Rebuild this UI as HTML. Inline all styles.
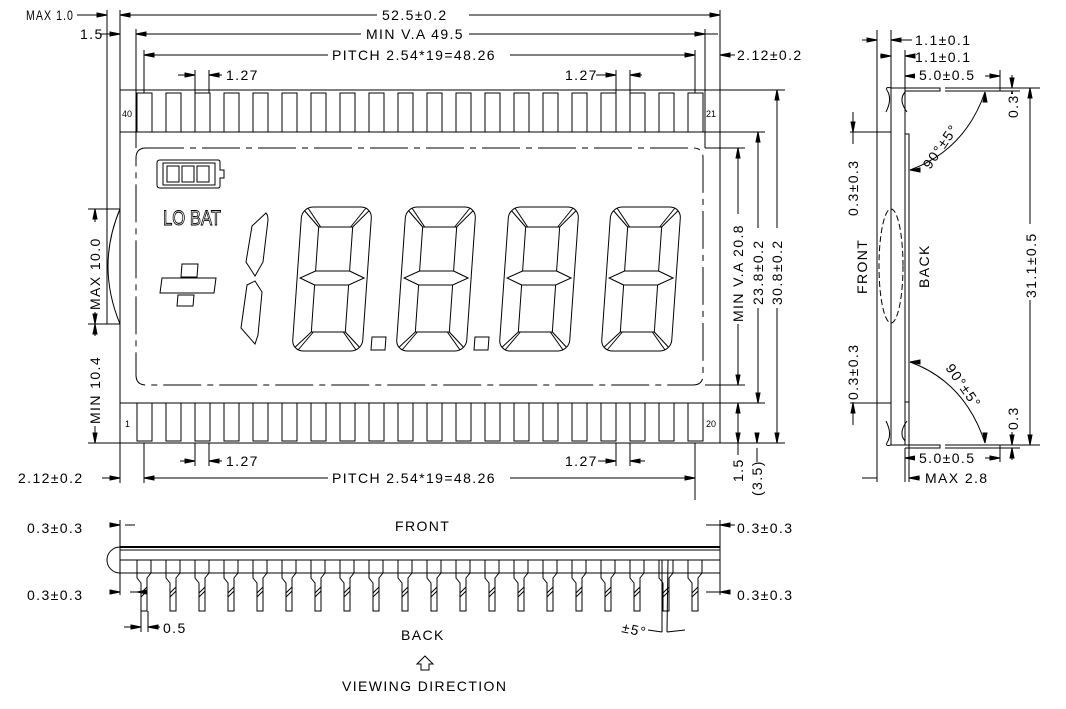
<!DOCTYPE html>
<html><head><meta charset="utf-8">
<style>
html,body{margin:0;padding:0;background:#fff;}
svg{display:block;}
text{font-family:"Liberation Sans",sans-serif;font-size:14px;letter-spacing:1.4px;fill:#000;}
</style></head>
<body>
<svg id="s" width="1066" height="709" viewBox="0 0 1066 709" xmlns="http://www.w3.org/2000/svg">
<g id="g" stroke="#000" stroke-width="1" fill="none"></g>
<text x="26" y="20" textLength="48" lengthAdjust="spacingAndGlyphs">MAX  1.0</text>
<text x="80" y="39">1.5</text>
<rect x="377" y="7" width="92" height="14" fill="#fff"/>
<text x="382" y="20">52.5±0.2</text>
<rect x="361" y="27" width="108" height="14" fill="#fff"/>
<text x="366" y="39">MIN  V.A  49.5</text>
<rect x="328" y="47" width="182" height="14" fill="#fff"/>
<text x="332" y="60">PITCH  2.54*19=48.26</text>
<text x="737" y="60">2.12±0.2</text>
<text x="226" y="80">1.27</text>
<text x="565" y="80">1.27</text>
<text x="122" y="117" style="font-size:9px;letter-spacing:0">40</text>
<text x="706" y="117" style="font-size:9px;letter-spacing:0">21</text>
<text x="125" y="427" style="font-size:9px;letter-spacing:0">1</text>
<text x="706" y="427" style="font-size:9px;letter-spacing:0">20</text>
<text x="226" y="466">1.27</text>
<text x="565" y="466">1.27</text>
<rect x="328" y="471" width="182" height="14" fill="#fff"/>
<text x="332" y="483">PITCH  2.54*19=48.26</text>
<text x="18" y="483">2.12±0.2</text>
<text transform="translate(743,482) rotate(-90)">1.5</text>
<text transform="translate(762,496) rotate(-90)">(3.5)</text>
<rect x="88" y="222" width="14" height="90" fill="#fff"/>
<text transform="translate(100,310) rotate(-90)">MAX  10.0</text>
<rect x="88" y="336" width="14" height="90" fill="#fff"/>
<text transform="translate(100,424) rotate(-90)">MIN  10.4</text>
<rect x="731" y="214" width="14" height="110" fill="#fff"/>
<text transform="translate(743,322) rotate(-90)">MIN  V.A  20.8</text>
<rect x="751" y="228" width="14" height="80" fill="#fff"/>
<text transform="translate(763,305) rotate(-90)">23.8±0.2</text>
<rect x="770" y="228" width="14" height="80" fill="#fff"/>
<text transform="translate(782,305) rotate(-90)">30.8±0.2</text>
<text x="163" y="225" style="font-size:21px;letter-spacing:0;fill:#fff;stroke:#000;stroke-width:0.9;font-family:'Liberation Sans Narrow','Liberation Sans',sans-serif" textLength="58" lengthAdjust="spacingAndGlyphs">LO BAT</text>
<text x="395" y="531">FRONT</text>
<text x="401" y="640">BACK</text>
<text x="342" y="691">VIEWING  DIRECTION</text>
<text x="27" y="533">0.3±0.3</text>
<text x="737" y="533">0.3±0.3</text>
<text x="27" y="600">0.3±0.3</text>
<text x="737" y="600">0.3±0.3</text>
<text x="163" y="633">0.5</text>
<text transform="translate(621,632) rotate(12)">±5°</text>
<text x="915" y="45">1.1±0.1</text>
<text x="915" y="62">1.1±0.1</text>
<rect x="915" y="69" width="70" height="13" fill="#fff"/>
<text x="919" y="80">5.0±0.5</text>
<rect x="915" y="452" width="70" height="13" fill="#fff"/>
<text x="919" y="463">5.0±0.5</text>
<text x="925" y="483">MAX  2.8</text>
<rect x="1005" y="94" width="14" height="26" fill="#fff"/>
<text transform="translate(1018,118) rotate(-90)">0.3</text>
<rect x="1005" y="404" width="14" height="28" fill="#fff"/>
<text transform="translate(1018,430) rotate(-90)">0.3</text>
<rect x="1024" y="224" width="14" height="76" fill="#fff"/>
<text transform="translate(1036,298) rotate(-90)">31.1±0.5</text>
<rect x="846" y="144" width="14" height="74" fill="#fff"/>
<text transform="translate(858,216) rotate(-90)">0.3±0.3</text>
<rect x="846" y="328" width="14" height="74" fill="#fff"/>
<text transform="translate(858,400) rotate(-90)">0.3±0.3</text>
<text transform="translate(867,294) rotate(-90)">FRONT</text>
<text transform="translate(929,288) rotate(-90)">BACK</text>
<text transform="translate(930,170) rotate(-55)">90°±5°</text>
<text transform="translate(945,368) rotate(55)">90°±5°</text>
</svg>
<script>
var g=document.getElementById('g');var NS='http://www.w3.org/2000/svg';
function el(t,a,p){var e=document.createElementNS(NS,t);for(var k in a)e.setAttribute(k,a[k]);(p||g).appendChild(e);return e;}
function L(x1,y1,x2,y2,extra){var a={x1:x1,y1:y1,x2:x2,y2:y2};for(var k in extra)a[k]=extra[k];return el('line',a);}
function P(d,extra){var a={d:d};for(var k in extra)a[k]=extra[k];return el('path',a);}
function R(x,y,w,h,extra){var a={x:x,y:y,width:w,height:h};for(var k in extra)a[k]=extra[k];return el('rect',a);}
function A(x,y,dir){var s=10,w=2;var d;
 if(dir=='l')d='M'+x+' '+y+'L'+(x+s)+' '+(y-w)+'L'+(x+s)+' '+(y+w)+'Z';
 if(dir=='r')d='M'+x+' '+y+'L'+(x-s)+' '+(y-w)+'L'+(x-s)+' '+(y+w)+'Z';
 if(dir=='u')d='M'+x+' '+y+'L'+(x-w)+' '+(y+s)+'L'+(x+w)+' '+(y+s)+'Z';
 if(dir=='d')d='M'+x+' '+y+'L'+(x-w)+' '+(y-s)+'L'+(x+w)+' '+(y-s)+'Z';
 P(d,{fill:'#000'});}
L(120,90,720,90);L(120,132,720,132);L(120,403,720,403);L(120,443,720,443);
L(120,90,120,443);L(720,90,720,443);
for(var i=0;i<20;i++){var x=137+i*29.0;R(x,93,15,39);R(x,403,15,38);}
P('M146 148 L693 148 Q703 148 703 158 L703 375 Q703 385 693 385 L146 385 Q136 385 136 375 L136 158 Q136 148 146 148Z',{'stroke-dasharray':'38 6 6 6'});
P('M120 209 Q96 266 120 324');
P('M160 160 L218 160 Q220 160 220 162 L220 170 L224 170 L224 178 L220 178 L220 186 Q220 188 218 188 L160 188 Q157 188 157 185 L157 163 Q157 160 160 160Z');
P('M163 163 L215 163 L215 185 L163 185Z');
R(167,166,12,16);R(182,166,12,16);R(197,166,12,16);
P('M162 278 L216 278 L214 293 L160 293Z');P('M182 264 L198 264 L197 277 L181 277Z');P('M178 295 L194 295 L193 306 L177 306Z');
P('M252 226 L266 213 Q268 215 268 220 L263 262 L255 276 L246 262 Z');
P('M247 285 L255 281 L262 292 L258 335 L255 344 L241 328 Z');
function digit(bx){var gg=el('g',{transform:'translate('+bx+',351) skewX(-4)'});
 el('rect',{x:0,y:-144,width:70,height:144,rx:11},gg);
 el('path',{d:'M18 -124 L52 -124 L52 -80 L18 -80Z M18 -66 L52 -66 L52 -19 L18 -19Z'},gg);
 el('path',{d:'M18 -80 L3 -73 L18 -66 M52 -80 L67 -73 L52 -66'},gg);
 el('path',{d:'M3 -140 L18 -124 M6 -143 L20 -124 M67 -140 L52 -124 M64 -143 L50 -124 M3 -4 L18 -19 M6 -1 L20 -19 M67 -4 L52 -19 M64 -1 L50 -19'},gg);
}
digit(292);digit(396);digit(499);digit(601);
P('M372 337 L386 337 L385 350 L371 350Z');P('M475 337 L489 337 L488 350 L474 350Z');
L(120,10,120,90);L(720,10,720,90);L(107,10,107,324);
L(125,15,720,15);A(120,15,'l');A(720,15,'r');L(77,15,97,15);A(107,15,'r');
L(136,29,136,148);L(705,29,705,148);
L(100,34,110,34);A(120,34,'r');L(141,34,705,34);A(136,34,'l');A(705,34,'r');L(705,34,718,34);
L(144,50,144,93);L(695,50,695,93);L(144,55,695,55);A(144,55,'l');A(695,55,'r');
L(720,55,735,55);A(720,55,'l');
L(195,70,195,93);L(209,70,209,93);L(178,75,195,75);A(195,75,'r');L(209,75,222,75);A(209,75,'l');
L(616,70,616,93);L(630,70,630,93);L(596,75,616,75);A(616,75,'r');L(630,75,642,75);A(630,75,'l');
L(195,443,195,466);L(209,443,209,466);L(180,461,195,461);A(195,461,'r');L(209,461,222,461);A(209,461,'l');
L(616,443,616,466);L(630,443,630,466);L(598,461,616,461);A(616,461,'r');L(630,461,645,461);A(630,461,'l');
L(144,443,144,483);L(695,443,695,500);L(144,478,695,478);A(144,478,'l');A(695,478,'r');
L(120,443,120,483);L(102,478,120,478);A(120,478,'r');
L(88,209,120,209);L(88,324,120,324);L(88,443,120,443);
L(95,209,95,443);A(95,209,'u');A(95,324,'d');A(95,324,'u');A(95,443,'d');
L(705,148,745,148);L(705,385,745,385);L(720,132,765,132);L(720,403,765,403);L(720,90,785,90);L(720,443,785,443);
L(738,148,738,385);A(738,148,'u');A(738,385,'d');
L(758,132,758,403);A(758,132,'u');A(758,403,'d');
L(777,90,777,443);A(777,90,'u');A(777,443,'d');
L(738,403,738,443);A(738,403,'u');A(738,443,'d');L(738,443,738,455);
L(757,448,757,462);A(757,443,'d');
L(120,547,720,547,{'stroke-width':2});L(120,550,720,550);
L(120,547,120,573);L(720,547,720,573);
L(120,560,720,560);L(120,573,720,573);
P('M120 547 A13 13 0 0 0 120 573');
for(var i=0;i<20;i++){var x=137+i*29.0;
 R(x,560,14,13,{fill:'#fff'});P('M'+x+' 560 L'+x+' 578 L'+(x+4)+' 583 L'+(x+4)+' 611 L'+(x+10)+' 611 L'+(x+10)+' 578 L'+(x+14)+' 573 L'+(x+14)+' 560');
 L(x+4,593,x+10,587);L(x+4,597,x+10,591);}
L(120,520,120,547);L(110,525,120,525);A(120,525,'r');L(135,525,125,525);
L(720,520,720,547);L(706,525,720,525);L(735,525,725,525);A(720,525,'l');
L(110,592,120,592);A(120,592,'r');L(120,573,120,595);L(130,592,137,592);A(137,592,'l');
L(720,573,720,595);L(706,592,720,592);A(720,592,'l');L(710,592,730,592);
L(141,611,141,632);L(148,611,148,632);L(124,627,141,627);A(141,627,'r');L(148,627,160,627);A(148,627,'l');
L(662,560,662,632);L(668,560,667,632);L(648,630,662,632);L(667,632,685,630);
P('M425 656 L433 664 L429 664 L429 670 L421 670 L421 664 L417 664Z');
R(877,132,14,271);R(891,88,14,357);R(905,134,4,268);
el('ellipse',{cx:891,cy:266,rx:12,ry:57,'stroke-dasharray':'6 3'});
P('M905 88 L940 88 L940 91 L905 91');P('M945 88 L1000 88 L1000 91 L945 91');
P('M905 445 L940 445 L940 448 L905 448');P('M945 445 L1000 445 L1000 448 L945 448');
P('M891 88 Q884 86 888 92 Q892 100 886 112');P('M905 92 Q898 100 907 112');
P('M891 445 Q884 447 888 441 Q892 433 886 421');P('M905 441 Q898 433 907 421');
L(877,30,877,132);L(891,30,891,88);L(905,50,905,88);
L(862,40,877,40);A(877,40,'r');L(891,40,912,40);A(891,40,'l');
L(880,56,891,56);A(891,56,'r');L(905,56,912,56);A(905,56,'l');
L(905,76,1000,76);A(905,76,'l');A(1000,76,'r');L(1000,70,1000,88);
L(1000,88,1040,88);L(1000,91,1020,91);
L(1012,75,1012,88);A(1012,88,'d');L(1012,91,1012,118);A(1012,91,'u');
L(1030,88,1030,445);A(1030,88,'u');A(1030,445,'d');
L(1000,445,1040,445);L(1000,448,1020,448);
L(1012,420,1012,445);A(1012,445,'d');L(1012,448,1012,460);A(1012,448,'u');
L(905,458,1000,458);A(905,458,'l');A(1000,458,'r');L(1000,448,1000,462);L(905,448,905,482);
L(909,402,909,482);L(909,478,920,478);A(909,478,'l');L(877,403,877,482);L(862,478,877,478);
L(850,132,877,132);L(850,403,877,403);L(853,112,853,132);A(853,132,'d');L(853,403,853,425);A(853,403,'u');
L(853,132,853,215);L(853,340,853,403);
P('M910 170 Q965 150 985 92');A(910,170,'l');A(985,92,'u');
P('M910 362 Q965 382 985 443');A(910,362,'l');A(985,443,'d');
</script>
</body></html>
